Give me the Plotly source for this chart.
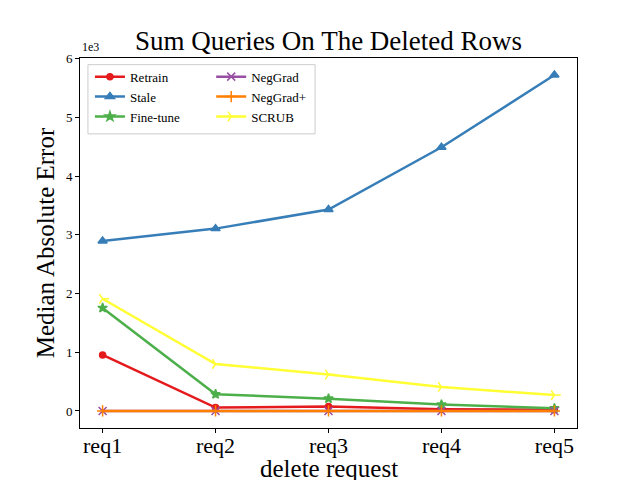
import plotly.graph_objects as go

requests = ["req1", "req2", "req3", "req4", "req5"]

retrain = [955, 57, 75, 30, 20]
stale = [2895, 3105, 3430, 4490, 5720]
fine_tune = [1755, 285, 210, 110, 45]
neggrad = [0, 0, 0, 0, 0]
neggrad_plus = [0, 0, 0, 0, 0]
scrub = [1910, 800, 620, 410, 270]

y_ticks = [0, 1000, 2000, 3000, 4000, 5000, 6000]
y_tick_text = ["0", "1", "2", "3", "4", "5", "6"]

# name, values, colour, marker, size, legend group, rank
series = [
    ("Retrain", retrain, "#e41a1c", "circle", 6, "legend", 1),
    ("Stale", stale, "#377eb8", "triangle-up", 8, "legend", 2),
    ("Fine-tune", fine_tune, "#4daf4a", "star", 7, "legend", 3),
    ("NegGrad", neggrad, "#984ea3", "x-thin", 8, "legend2", 1),
    ("NegGrad+", neggrad_plus, "#ff7f00", "cross-thin", 8, "legend2", 2),
    ("SCRUB", scrub, "#ffff33", "y-right", 8, "legend2", 3),
]

font = "Liberation Serif"
x_idx = list(range(len(requests)))

fig = go.Figure()
for name, vals, color, sym, size, leg, rank in series:
    fig.add_trace(go.Scatter(
        x=x_idx, y=vals, name=name, mode="lines+markers",
        line=dict(color=color, width=2.5),
        marker=dict(symbol=sym, size=size, color=color,
                    line=dict(color=color, width=1.5)),
        legend=leg, legendrank=rank,
    ))

legend_style = dict(
    bgcolor="rgba(0,0,0,0)", borderwidth=0,
    font=dict(family=font, size=13, color="black"),
    xanchor="left", yanchor="top", tracegroupgap=0, itemwidth=30,
)

# page body has an 8px margin, so the figure is drawn 8px smaller
fig.update_layout(
    width=632, height=472,
    margin=dict(l=72, r=63, t=50, b=52, autoexpand=False),
    paper_bgcolor="white", plot_bgcolor="white",
    title=dict(text="Sum Queries On The Deleted Rows", x=0.5, xanchor="center",
               xref="paper", y=0.93, yanchor="middle",
               font=dict(family=font, size=27, color="black")),
    legend=dict(x=0.02, y=0.99, **legend_style),
    legend2=dict(x=0.264, y=0.99, **legend_style),
    xaxis=dict(
        range=[-0.2, 4.2], tickvals=x_idx, ticktext=requests,
        ticks="outside", ticklen=4, tickcolor="black", automargin=False,
        ticklabelstandoff=-6,
        showgrid=False, zeroline=False,
        showline=True, linecolor="black", linewidth=1, mirror=True,
        tickfont=dict(family=font, size=22, color="black"),
    ),
    yaxis=dict(
        range=[-290, 6010], tickvals=y_ticks, ticktext=y_tick_text,
        ticks="outside", ticklen=4, tickcolor="black", automargin=False,
        showgrid=False, zeroline=False,
        showline=True, linecolor="black", linewidth=1, mirror=True,
        tickfont=dict(family=font, size=13, color="black"),
        title=dict(text="Median Absolute Error", standoff=4,
                   font=dict(family=font, size=25, color="black")),
    ),
    shapes=[dict(type="rect", xref="paper", yref="paper",
                 x0=0.016, x1=0.473, y0=0.795, y1=0.982,
                 line=dict(color="#cccccc", width=1),
                 fillcolor="rgba(255,255,255,0.8)", layer="below")],
    annotations=[
        dict(text="1e3", xref="paper", yref="paper", x=0, y=1.005,
             xanchor="left", yanchor="bottom", showarrow=False,
             font=dict(family=font, size=12, color="black")),
        # x-axis title sits lower than plotly lets an axis title go
        dict(text="delete request", xref="paper", yref="paper", x=0.5, y=-0.11,
             xanchor="center", yanchor="middle", showarrow=False,
             font=dict(family=font, size=25, color="black")),
    ],
)

fig.write_html("out.html")
